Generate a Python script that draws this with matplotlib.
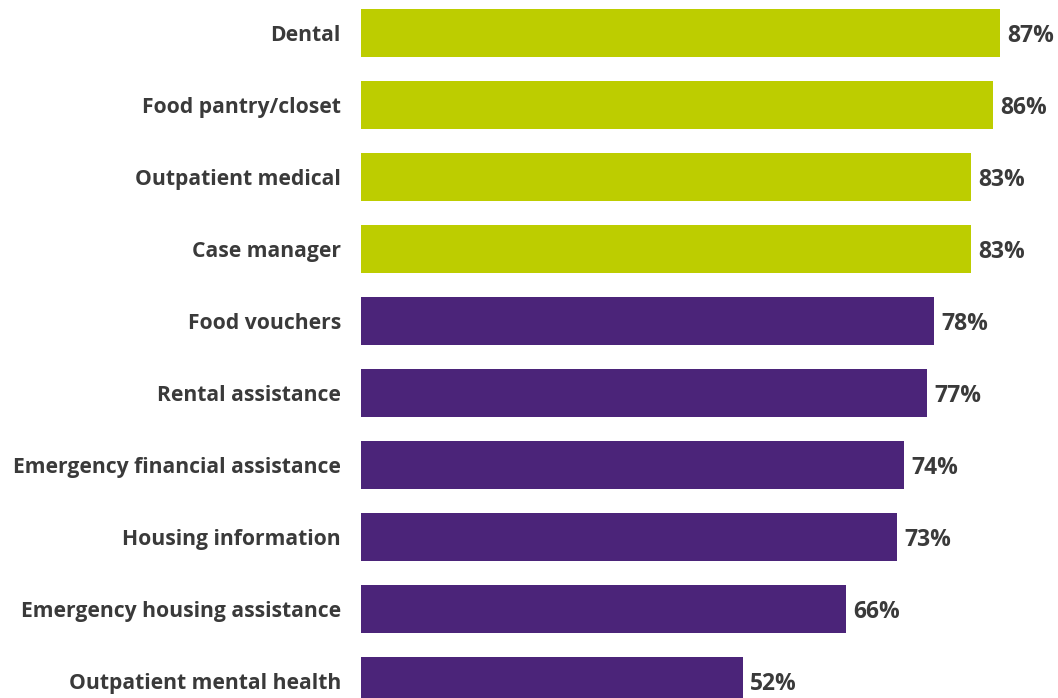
import matplotlib.pyplot as plt
import numpy as np

categories = ["Dental", "Food pantry/closet", "Outpatient medical", "Case manager",
              "Food vouchers", "Rental assistance", "Emergency financial assistance",
              "Housing information", "Emergency housing assistance",
              "Outpatient mental health"]
values = [87, 86, 83, 83, 78, 77, 74, 73, 66, 52]
top_group = 4  # first four bars highlighted

green = "#BDCD00"
purple = "#4B2479"
txt = "#3a3a3a"

plt.rcParams['font.family'] = ['Open Sans', 'DejaVu Sans']

fig = plt.figure(figsize=(10.58, 6.98), dpi=100)
ax = fig.add_axes([361 / 1058, 0, 1 - 361 / 1058, 1])

y = np.arange(len(categories))
colors = [green if i < top_group else purple for i in range(len(categories))]
ax.barh(y, values, height=48 / 72, color=colors)

for yi, v in zip(y, values):
    ax.text(v + 1.0, yi, f"{v}%", va="center_baseline", ha="left", fontsize=16.5,
            fontweight="bold", color=txt)

ax.set_yticks(y)
ax.set_yticklabels(categories, fontsize=15.2, fontweight="bold", color=txt)
ax.tick_params(axis="y", length=0, pad=14.4)
ax.set_xticks([])
ax.set_xlim(0, 94.9)
ax.set_ylim(9.236, -0.458)
for s in ax.spines.values():
    s.set_visible(False)

fig.savefig("out.png", dpi=100)
